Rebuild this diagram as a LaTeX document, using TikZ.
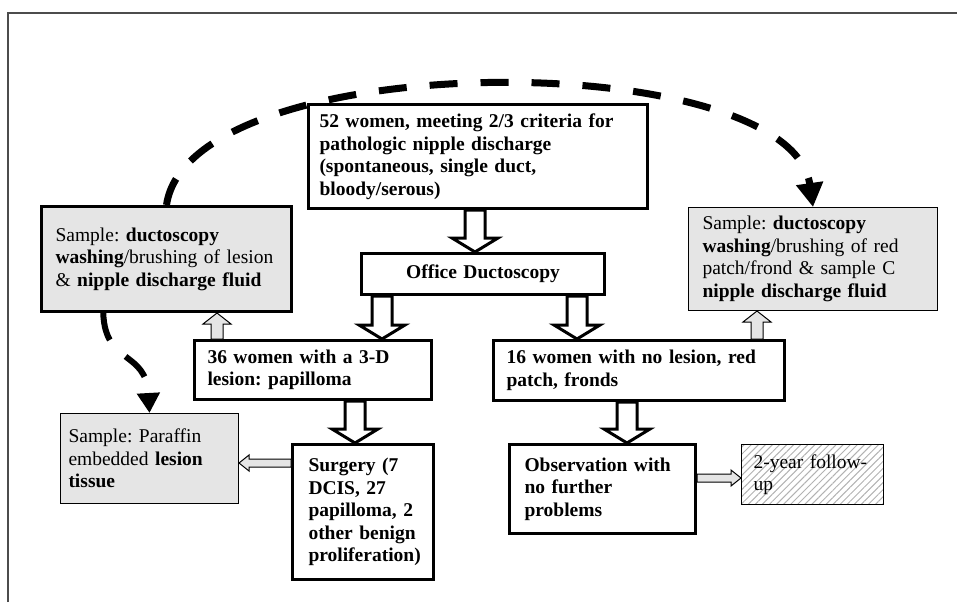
\documentclass[tikz,border=0pt]{standalone}
\usepackage{fontspec}
\setmainfont{Liberation Serif}
\usepackage{tikz}
\usetikzlibrary{calc,arrows.meta,patterns.meta}
\frenchspacing

% block arrow: style, from, to, half shaft, half head, head length
\newcommand{\blockarrow}[6]{%
  \coordinate (ba) at ($(#3)!#6!(#2)$);
  \draw[#1] ($(#2)!#4!90:(#3)$) -- ($(ba)!#4!90:(#3)$) -- ($(ba)!#5!90:(#3)$) -- (#3)
    -- ($(ba)!#5!-90:(#3)$) -- ($(ba)!#4!-90:(#3)$) -- ($(#2)!#4!-90:(#3)$) -- cycle;
}

\begin{document}
\hyphenpenalty=10000
\begin{tikzpicture}[x=1pt,y=-1pt,
  every node/.style={font=\fontsize{19.5}{22.5}\selectfont,anchor=north west,inner ysep=0pt},
  box/.style={draw,line width=3pt,fill=white,align=left,font=\fontsize{19.5}{22.5}\selectfont\bfseries},
  sample/.style={draw,line width=1pt,fill=black!10,align=left},
  blk/.style={draw,line width=3pt,fill=white,line join=miter},
  gry/.style={draw,line width=1pt,fill=black!10,line join=miter},
  dasharc/.style={line width=7pt,dash pattern=on 28pt off 23pt,-{Triangle[width=26pt,length=24pt]}}]
\useasboundingbox (0,0) rectangle (957,602);
\draw[color=black!70,line width=2pt] (8,602) -- (8,13) -- (957,13);

\node[box,minimum width=339pt,minimum height=104pt,text width=317pt,inner xsep=11pt] (crit) at (307,103)
  {52 women, meeting 2/3 criteria for\\pathologic nipple discharge\\(spontaneous, single duct,\\bloody/serous)};
\node[box,minimum width=243pt,minimum height=41pt,text width=223pt,inner xsep=10pt,align=center] (office) at (360,252)
  {Office Ductoscopy};
\node[sample,line width=3pt,minimum width=250pt,minimum height=105pt,text width=222pt,inner xsep=14pt] (lsam) at (40,205)
  {Sample: \textbf{ductoscopy}\\\textbf{washing}/brushing of lesion\\\& \textbf{nipple discharge fluid}};
\node[sample,minimum width=249pt,minimum height=103pt,text width=221pt,inner xsep=14pt] (rsam) at (688,207)
  {Sample: \textbf{ductoscopy}\\\textbf{washing}/brushing of red\\patch/frond \& sample C\\\textbf{nipple discharge fluid}};
\node[box,minimum width=237pt,minimum height=59pt,text width=211pt,inner xsep=13pt] (w36) at (193,339)
  {36 women with a 3-D\\lesion: papilloma};
\node[box,minimum width=291pt,minimum height=60pt,text width=265pt,inner xsep=13pt] (w16) at (492,339)
  {16 women with no lesion, red\\patch, fronds};
\node[box,minimum width=141pt,minimum height=135pt,text width=109pt,inner xsep=16pt] (surg) at (291,443)
  {Surgery (7\\DCIS, 27\\papilloma, 2\\other benign\\proliferation)};
\node[box,minimum width=186pt,minimum height=89pt,text width=156pt,inner xsep=15pt] (obs) at (508,443)
  {Observation with\\no further\\problems};
\node[sample,minimum width=178pt,minimum height=90pt,text width=162pt,inner xsep=8pt] (paraf) at (60,413)
  {Sample: Paraffin\\embedded \textbf{lesion}\\\textbf{tissue}};
\node[draw,line width=1pt,pattern={Lines[angle=45,distance=5pt,line width=1pt]},pattern color=black!30,minimum width=142pt,minimum height=60pt,text width=118pt,inner xsep=12pt,align=left] (fu) at (741,444)
  {2-year follow-\\up};

\coordinate (c1) at (crit.south -| 475,0);
\blockarrow{blk}{c1}{c1 |- office.north}{10pt}{23pt}{14pt}
\coordinate (c2) at (office.south -| 382,0);
\blockarrow{blk}{c2}{c2 |- w36.north}{10pt}{23pt}{14pt}
\coordinate (c3) at (office.south -| 577,0);
\blockarrow{blk}{c3}{c3 |- w16.north}{10pt}{23pt}{14pt}
\coordinate (c4) at (w36.south -| 355,0);
\blockarrow{blk}{c4}{c4 |- surg.north}{10pt}{23pt}{14pt}
\coordinate (c5) at (w16.south -| 627,0);
\blockarrow{blk}{c5}{c5 |- obs.north}{10pt}{23pt}{14pt}

\coordinate (g1) at ($(w36.north west)+(24,0)$);
\blockarrow{gry}{g1}{g1 |- lsam.south}{6pt}{14pt}{11pt}
\coordinate (g2) at ($(w16.north east)+(-29,0)$);
\blockarrow{gry}{g2}{g2 |- rsam.south}{6pt}{14pt}{11pt}
\coordinate (g3) at ($(surg.north west)+(0,20)$);
\blockarrow{gry}{g3}{g3 -| paraf.east}{4pt}{8pt}{10pt}
\coordinate (g4) at ($(obs.north east)+(0,35)$);
\blockarrow{gry}{g4}{g4 -| fu.west}{4pt}{8pt}{10pt}

\draw[dasharc] (lsam.north) .. controls (190,45) and (790,45) .. (rsam.north);
\coordinate (d1) at ($(lsam.south west)!0.25!(lsam.south east)$);
\draw[dasharc,line width=6pt,-{Triangle[width=22pt,length=20pt]}] (d1) .. controls (105,365) and (146,350) .. (paraf.north);
\end{tikzpicture}
\end{document}
